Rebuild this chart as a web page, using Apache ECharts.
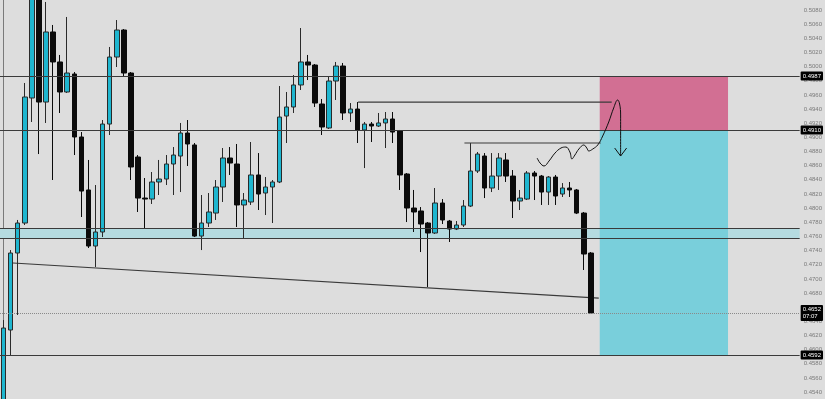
<!DOCTYPE html>
<html><head><meta charset="utf-8">
<script src="https://cdn.jsdelivr.net/npm/echarts@6/dist/echarts.min.js"></script>
<style>html,body{margin:0;padding:0;background:#dddddd}#c{width:825px;height:399px}</style>
</head><body><div id="c"></div>
<script>
// candles: [open, close, low, high]
const candleOHLC = [
[0.45250,0.46305,0.45150,0.46418],
[0.46277,0.47365,0.45923,0.47407],
[0.47365,0.47789,0.46489,0.47832],
[0.47789,0.49570,0.47761,0.49768],
[0.49556,0.51012,0.49217,0.51153],
[0.51082,0.49499,0.48764,0.51153],
[0.49499,0.50489,0.49203,0.50913],
[0.50489,0.50065,0.48397,0.50588],
[0.50065,0.49641,0.49344,0.50164],
[0.49641,0.49909,0.49627,0.50701],
[0.49895,0.49005,0.48750,0.49923],
[0.49005,0.48241,0.47874,0.49075],
[0.48256,0.47464,0.47436,0.48680],
[0.47464,0.47662,0.47167,0.48326],
[0.47662,0.49188,0.47591,0.49245],
[0.49188,0.50135,0.49033,0.50277],
[0.50135,0.50517,0.49994,0.50658],
[0.50517,0.49909,0.49853,0.50531],
[0.49909,0.48581,0.48397,0.49923],
[0.48722,0.48142,0.47945,0.48750],
[0.48142,0.48128,0.47718,0.48425],
[0.48128,0.48369,0.48058,0.48510],
[0.48369,0.48411,0.48185,0.48680],
[0.48411,0.48623,0.48326,0.48750],
[0.48623,0.48750,0.48185,0.48863],
[0.48736,0.49061,0.48227,0.49203],
[0.49061,0.48906,0.48595,0.49245],
[0.48892,0.47605,0.47591,0.48920],
[0.47605,0.47789,0.47407,0.48185],
[0.47789,0.47945,0.47733,0.48213],
[0.47930,0.48298,0.47832,0.48397],
[0.48298,0.48708,0.48086,0.48849],
[0.48708,0.48637,0.48468,0.48863],
[0.48623,0.48044,0.47733,0.48906],
[0.48044,0.48114,0.47577,0.48213],
[0.48086,0.48468,0.48044,0.48934],
[0.48468,0.48199,0.47973,0.48778],
[0.48213,0.48298,0.47902,0.48439],
[0.48298,0.48369,0.47789,0.48397],
[0.48369,0.49287,0.48354,0.49725],
[0.49301,0.49429,0.48920,0.49641],
[0.49429,0.49740,0.49344,0.49881],
[0.49740,0.50065,0.49669,0.50545],
[0.50065,0.50022,0.49810,0.50164],
[0.50022,0.49485,0.49429,0.50036],
[0.49471,0.49146,0.49033,0.49542],
[0.49132,0.49796,0.49118,0.49853],
[0.49796,0.50008,0.49528,0.50065],
[0.50008,0.49344,0.49245,0.50051],
[0.49344,0.49400,0.49217,0.49485],
[0.49400,0.49104,0.48920,0.49499],
[0.49104,0.49188,0.48566,0.49217],
[0.49188,0.49160,0.48934,0.49217],
[0.49160,0.49203,0.49146,0.49344],
[0.49203,0.49259,0.48849,0.49358],
[0.49259,0.49075,0.48920,0.49358],
[0.49089,0.48468,0.48256,0.49104],
[0.48482,0.48001,0.47803,0.48496],
[0.48001,0.47945,0.47662,0.48256],
[0.47959,0.47775,0.47379,0.48015],
[0.47789,0.47648,0.46885,0.47803],
[0.47648,0.48072,0.47634,0.48284],
[0.48072,0.47832,0.47775,0.48128],
[0.47817,0.47704,0.47521,0.47832],
[0.47704,0.47761,0.47690,0.47817],
[0.47761,0.48029,0.47733,0.48114],
[0.48029,0.48524,0.48015,0.48920],
[0.48524,0.48764,0.48496,0.48793],
[0.48736,0.48284,0.48142,0.48778],
[0.48284,0.48453,0.48227,0.48778],
[0.48453,0.48708,0.48256,0.48778],
[0.48680,0.48453,0.48369,0.48778],
[0.48453,0.48100,0.47860,0.48538],
[0.48100,0.48142,0.47973,0.48256],
[0.48128,0.48496,0.48114,0.48524],
[0.48496,0.48453,0.48114,0.48524],
[0.48453,0.48227,0.48044,0.48468],
[0.48227,0.48439,0.48044,0.48453],
[0.48439,0.48171,0.48044,0.48468],
[0.48199,0.48284,0.48157,0.48354],
[0.48284,0.48256,0.48157,0.48369],
[0.48256,0.47930,0.47916,0.48270],
[0.47930,0.47351,0.47125,0.47945],
[0.47365,0.46517,0.46503,0.47379]
];
const totalSlots = 113;           // candle slots incl. empty future space
const categories = Array.from({length: totalSlots}, (_, i) => String(i));

const priceMin = 0.45302, priceMax = 0.50941;
const tickDecimals = 4;

// horizontal levels
const levelUpper = 0.49867;      // top line / stop
const levelEntry = 0.49104;      // entry line
const levelTarget = 0.45923;     // target line
const lastPrice = 0.46517;       // current price
const countdown = '07:07';
const zoneBand = [0.47711, 0.47570];

// drawn segments [slot, price]
const segHigh = [[50.10, 0.49499], [85.94, 0.49499]];
const segMid = [[65.13, 0.48920], [84.39, 0.48920]];
const trendLine = [[1.33, 0.47224], [84.11, 0.46729]];
const boxX = [84.25, 102.38];

const sketchCurve = [
[75.40,0.48708],[75.82,0.48637],[76.38,0.48595],[77.08,0.48665],[77.93,0.48778],
[78.77,0.48849],[79.47,0.48863],[80.03,0.48793],[80.32,0.48694],[80.74,0.48750],
[81.30,0.48835],[82.00,0.48892],[82.42,0.48849],[82.70,0.48807],[83.27,0.48835],
[83.97,0.48892],[84.67,0.49019],[85.52,0.49217],[86.22,0.49415],[86.78,0.49528],
[87.06,0.49471],[87.20,0.49316],[87.20,0.48736]
];
const arrowHead = [[86.36,0.48849],[87.20,0.48736],[88.05,0.48849]];

const chart = echarts.init(document.getElementById('c'), null, {renderer: 'canvas'});
const lineGrey = '#3a3a3a';
const tagLabel = (fmt) => ({
  show: true, position: 'end', distance: 1, formatter: fmt,
  color: '#fff', backgroundColor: '#000', fontSize: 6, fontFamily: 'Liberation Sans',
  padding: [1, 2], lineHeight: 7, borderRadius: 1
});
const plainSeg = (data, z) => ({
  type: 'line', xAxisIndex: 1, yAxisIndex: 0, data, symbol: 'none', silent: true,
  lineStyle: {color: lineGrey, width: 1.2}, z: z || 4
});

chart.setOption({
  backgroundColor: '#dddddd',
  animation: false,
  grid: {left: -2, right: 23, top: 0, bottom: 0},
  xAxis: [
    {type: 'category', data: categories, boundaryGap: true, show: false},
    {type: 'value', min: -0.5, max: totalSlots - 0.5, show: false}
  ],
  yAxis: {
    type: 'value', position: 'right', min: priceMin, max: priceMax, splitNumber: 28,
    axisLine: {show: true, lineStyle: {color: '#7a7a7a', width: 1}},
    axisTick: {show: false}, splitLine: {show: false},
    axisLabel: {show: true, inside: false, margin: 4, fontSize: 6, color: '#7a7a7a',
      fontFamily: 'Liberation Sans', showMinLabel: false, showMaxLabel: false,
      formatter: v => v.toFixed(tickDecimals)}
  },
  series: [
    {
      type: 'line', xAxisIndex: 1, data: trendLine, symbol: 'none', silent: true, z: 1,
      lineStyle: {color: lineGrey, width: 1.2},
      markArea: {
        silent: true,
        data: [
          [{yAxis: zoneBand[0], itemStyle: {color: '#b5dbe0'}}, {yAxis: zoneBand[1]}],
          [{coord: [boxX[0], levelUpper], itemStyle: {color: '#d26f93'}}, {coord: [boxX[1], levelEntry]}],
          [{coord: [boxX[0], levelEntry], itemStyle: {color: '#79cfdb'}}, {coord: [boxX[1], levelTarget]}]
        ]
      },
      markLine: {
        silent: true, symbol: 'none', precision: 5,
        lineStyle: {color: lineGrey, width: 1.2, type: 'solid'},
        label: {show: false},
        data: [
          {yAxis: zoneBand[0], label: {show: false}},
          {yAxis: zoneBand[1], label: {show: false}},
          {yAxis: levelUpper, label: tagLabel(p => p.value.toFixed(tickDecimals))},
          {yAxis: levelEntry, label: tagLabel(p => p.value.toFixed(tickDecimals))},
          {yAxis: levelTarget, label: tagLabel(p => p.value.toFixed(tickDecimals))},
          {yAxis: lastPrice, lineStyle: {type: 'dotted', color: '#8a8a8a', width: 1},
            label: tagLabel(p => p.value.toFixed(tickDecimals) + '\n' + countdown)}
        ]
      }
    },
    {
      type: 'candlestick', xAxisIndex: 0, yAxisIndex: 0, data: candleOHLC, z: 3,
      barWidth: 5, silent: true, clip: true,
      itemStyle: {color: '#1fb6cf', color0: '#0b0b0b', borderColor: '#2a2a2a',
        borderColor0: '#0b0b0b', borderWidth: 1}
    },
    plainSeg(segHigh), plainSeg(segMid),
    {type: 'line', xAxisIndex: 1, data: sketchCurve, symbol: 'none', smooth: 0.4, silent: true,
      lineStyle: {color: '#111', width: 1}, z: 6},
    {type: 'line', xAxisIndex: 1, data: arrowHead, symbol: 'none', silent: true,
      lineStyle: {color: '#111', width: 1}, z: 6}
  ]
});
</script></body></html>
